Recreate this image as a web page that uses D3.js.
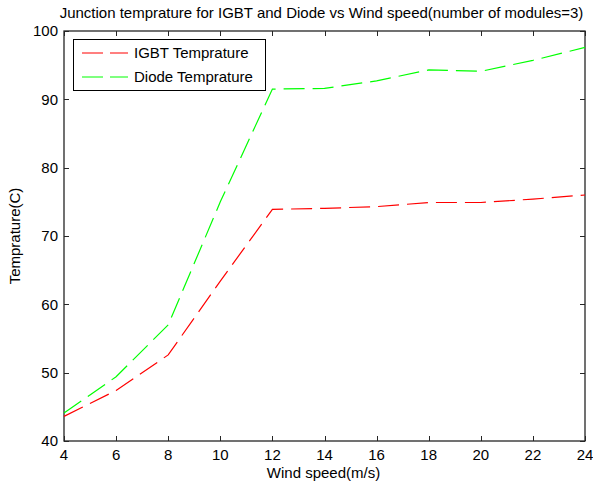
<!DOCTYPE html>
<html><head><meta charset="utf-8">
<script src="https://cdn.jsdelivr.net/npm/d3@7"></script>
<style>
html,body{margin:0;padding:0;background:#fff;}
text{font-family:Arial,"Liberation Sans",sans-serif;fill:#000;}
</style></head>
<body><svg id="c" width="593" height="486"></svg>
<script>
const windSpeed = [4, 6, 8, 10, 12, 14, 16, 18, 20, 22, 24];
const igbtTemp  = [43.6, 47.4, 52.6, 63.4, 73.9, 74.05, 74.3, 74.9, 74.9, 75.4, 76.0];
const diodeTemp = [44.1, 49.4, 57.0, 75.0, 91.5, 91.6, 92.7, 94.3, 94.1, 95.7, 97.6];
const xTicks = [4, 6, 8, 10, 12, 14, 16, 18, 20, 22, 24];
const yTicks = [40, 50, 60, 70, 80, 90, 100];
const seriesNames = ["IGBT Temprature", "Diode Temprature"];
const titleText = "Junction temprature for IGBT and Diode vs Wind speed(number of modules=3)";
const xLabel = "Wind speed(m/s)";
const yLabel = "Temprature(C)";

const L = 64, R = 585, T = 31, B = 441;
const svg = d3.select("#c");
const x = d3.scaleLinear().domain([4, 24]).range([L, R]);
const y = d3.scaleLinear().domain([40, 100]).range([B, T]);
const fs = 15;
const axisColor = "#262626";

// axes box
svg.append("rect").attr("x", L).attr("y", T).attr("width", R - L).attr("height", B - T)
  .attr("fill", "none").attr("stroke", axisColor).attr("stroke-width", 1.3);

const tl = 5;
const gx = svg.append("g");
xTicks.forEach(v => {
  const px = Math.round(x(v)) + 0.5;
  gx.append("line").attr("x1", px).attr("x2", px).attr("y1", B).attr("y2", B - tl).attr("stroke", axisColor);
  gx.append("line").attr("x1", px).attr("x2", px).attr("y1", T).attr("y2", T + tl).attr("stroke", axisColor);
  gx.append("text").attr("x", x(v)).attr("y", B + 19).attr("text-anchor", "middle")
    .style("font-size", fs + "px").text(v);
});
const gy = svg.append("g");
yTicks.forEach(v => {
  const py = Math.round(y(v)) + 0.5;
  gy.append("line").attr("x1", L).attr("x2", L + tl).attr("y1", py).attr("y2", py).attr("stroke", axisColor);
  gy.append("line").attr("x1", R).attr("x2", R - tl).attr("y1", py).attr("y2", py).attr("stroke", axisColor);
  gy.append("text").attr("x", L - 6).attr("y", y(v)).attr("dy", "0.36em").attr("text-anchor", "end")
    .style("font-size", fs + "px").text(v);
});

// lines
const line = d3.line().x((d, i) => x(windSpeed[i])).y(d => y(d));
const colors = ["#ff0000", "#00ff00"];
[igbtTemp, diodeTemp].forEach((s, k) => {
  svg.append("path").attr("d", line(s)).attr("fill", "none").attr("stroke", colors[k])
    .attr("stroke-width", 1.2).attr("stroke-dasharray", "21,8");
});

// legend
const lg = svg.append("g");
lg.append("rect").attr("x", 73.5).attr("y", 39.5).attr("width", 192).attr("height", 51)
  .attr("fill", "#fff").attr("stroke", "#000").attr("stroke-width", 1);
seriesNames.forEach((n, k) => {
  const ly = 53 + k * 24;
  lg.append("line").attr("x1", 82).attr("x2", 128).attr("y1", ly).attr("y2", ly)
    .attr("stroke", colors[k]).attr("stroke-width", 1.2).attr("stroke-dasharray", "21,7");
  lg.append("text").attr("x", 134).attr("y", ly).attr("dy", "0.36em").style("font-size", fs + "px").text(n);
});

// titles
svg.append("text").attr("x", (L + R) / 2 - 3).attr("y", 18).attr("text-anchor", "middle")
  .style("font-size", fs + "px").text(titleText);
svg.append("text").attr("x", (L + R) / 2 - 1).attr("y", 478).attr("text-anchor", "middle")
  .style("font-size", fs + "px").text(xLabel);
svg.append("text").attr("transform", `translate(20,${(T + B) / 2}) rotate(-90)`).attr("text-anchor", "middle")
  .style("font-size", fs + "px").text(yLabel);
</script></body></html>
